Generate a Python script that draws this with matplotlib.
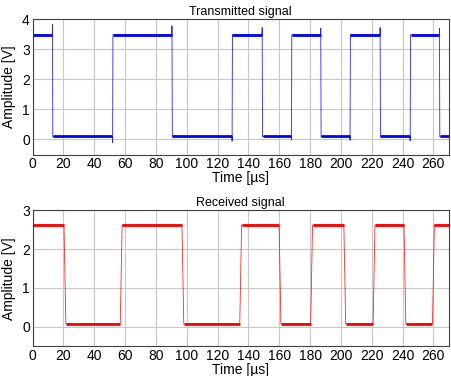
import numpy as np
import matplotlib
matplotlib.use("Agg")
import matplotlib.pyplot as plt

plt.rcParams['font.family'] = ['Liberation Sans', 'DejaVu Sans']

# transmitted signal (blue): edge times [us], levels [V], peak at each edge
tx_edges = [13, 52, 90.5, 129.5, 149, 168, 187, 206, 225.5, 245, 264]
tx_peaks = [3.82, -0.10, 3.78, -0.05, 3.72, -0.02, 3.70, -0.03, 3.72, -0.04, 3.70]
tx_high, tx_low = 3.48, 0.10

# received signal (red)
rx_edges = [21, 57.5, 97.5, 135, 160.5, 181, 202.5, 221.5, 241.5, 260]
rx_high, rx_low = 2.62, 0.08

t_end = 270


def square(edges, high, low, peaks=None, rise=0.3):
    xs, ys = [0.0], [high]
    level = high
    for i, e in enumerate(edges):
        nxt = low if level == high else high
        xs.append(e - rise / 2)
        ys.append(level)
        if peaks is not None:
            xs.append(e - rise / 4)
            ys.append(peaks[i])
        xs.append(e + rise / 2)
        ys.append(nxt)
        level = nxt
    xs.append(t_end)
    ys.append(level)
    return np.array(xs), np.array(ys)


def flats(edges, high, low):
    bounds = [0] + list(edges) + [t_end]
    segs = []
    level = high
    for a, b in zip(bounds[:-1], bounds[1:]):
        segs.append((a, b, level))
        level = low if level == high else high
    return segs


fig = plt.figure(figsize=(4.52, 3.76), dpi=100)
ax1 = fig.add_axes([0.072, 0.589, 0.921, 0.360])
ax2 = fig.add_axes([0.072, 0.079, 0.921, 0.362])

panels = [
    (ax1, tx_edges, tx_high, tx_low, tx_peaks, 0.3, '#0000ff', 'Transmitted signal', (-0.5, 4), [0, 1, 2, 3, 4]),
    (ax2, rx_edges, rx_high, rx_low, None, 1.2, '#ff0000', 'Received signal', (-0.5, 3), [0, 1, 2, 3]),
]

for ax, edges, hi, lo, pk, rise, col, title, ylim, yt in panels:
    x, y = square(edges, hi, lo, pk, rise)
    ax.plot(x, y, color=col, lw=0.6, alpha=0.85)
    for a, b, lev in flats(edges, hi, lo):
        ax.plot([a + rise / 2 if a > 0 else a, b - rise / 2 if b < t_end else b],
                [lev, lev], color=col, lw=2.0, solid_capstyle='butt')
    ax.set_xlim(0, t_end)
    ax.set_ylim(*ylim)
    ax.set_xticks(np.arange(0, 261, 20))
    ax.set_yticks(yt)
    ax.grid(True, color='#c8c8c8', lw=0.8)
    ax.set_axisbelow(True)
    ax.tick_params(length=0, labelsize=10, pad=2)
    for s in ax.spines.values():
        s.set_color('#404040')
        s.set_linewidth(0.8)
    ax.set_title(title, fontsize=9, pad=3)
    ax.set_xlabel('Time [µs]', fontsize=10, labelpad=0)
    ax.set_ylabel('Amplitude [V]', fontsize=10, labelpad=4)

fig.savefig('out.png', dpi=100)
